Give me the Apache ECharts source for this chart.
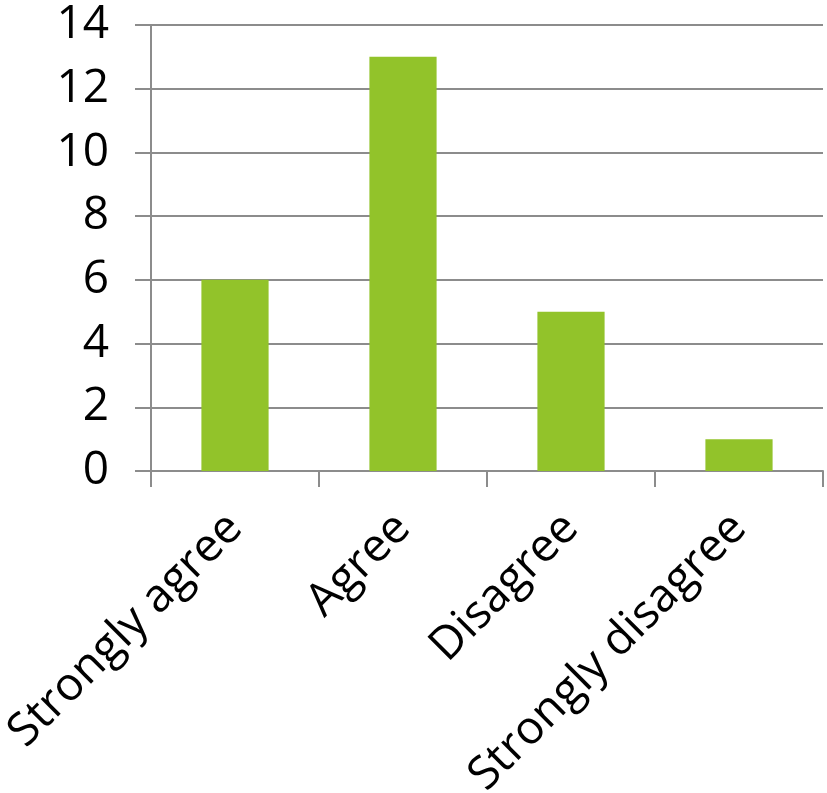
<!DOCTYPE html>
<html><head><meta charset="utf-8">
<script src="https://cdn.jsdelivr.net/npm/echarts@6/dist/echarts.min.js"></script>
<style>html,body{margin:0;padding:0;background:#fff}#c{width:827px;height:793px}</style>
</head><body><div id="c"></div>
<script>
const categories = ["Strongly agree", "Agree", "Disagree", "Strongly disagree"];
const values = [6, 13, 5, 1];
const yTicks = [0, 14, 2];

const chart = echarts.init(document.getElementById('c'));
chart.setOption({
  animation: false,
  grid: {left: 151, right: 4, top: 25, bottom: 322, containLabel: false, outerBoundsMode: 'none'},
  xAxis: {
    type: 'category', data: categories,
    axisLine: {lineStyle: {color: '#8c8c8c', width: 2}},
    axisTick: {show: true, length: 16, lineStyle: {color: '#8c8c8c', width: 2}},
    axisLabel: {rotate: 45, margin: 50, color: '#000', fontSize: 46, fontFamily: 'Open Sans', interval: 0}
  },
  yAxis: {
    type: 'value', min: yTicks[0], max: yTicks[1], interval: yTicks[2],
    axisLine: {show: true, lineStyle: {color: '#8c8c8c', width: 2}},
    axisTick: {show: true, length: 16, lineStyle: {color: '#8c8c8c', width: 2}},
    splitLine: {lineStyle: {color: '#8c8c8c', width: 2}},
    axisLabel: {margin: 42, color: '#000', fontSize: 46, fontFamily: 'Open Sans'}
  },
  series: [{
    type: 'bar', data: values, barWidth: '40%',
    itemStyle: {color: '#92C32A'}
  }]
});
</script></body></html>
